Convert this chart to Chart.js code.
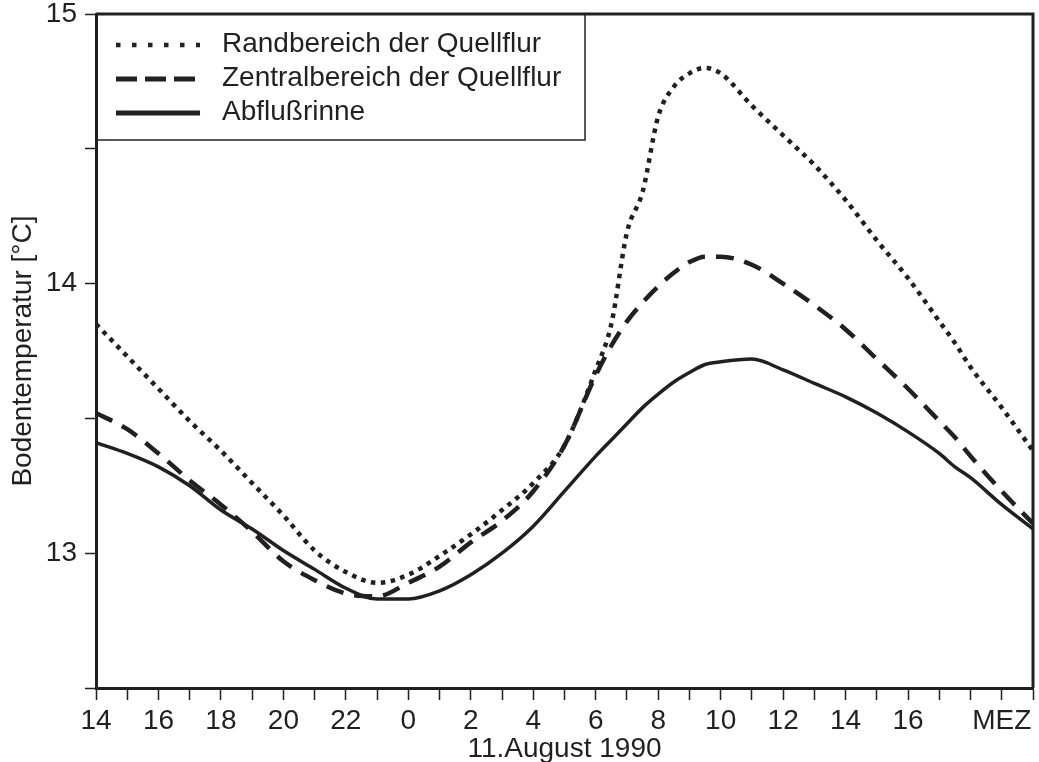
<!DOCTYPE html>
<html>
<head>
<meta charset="utf-8">
<script src="https://cdn.jsdelivr.net/npm/chart.js@4"></script>
<style>
  html, body { margin: 0; padding: 0; background: #fff; }
</style>
</head>
<body>
<canvas id="grafik" width="1039" height="762"></canvas>
<script>
// Stunden seit 14 Uhr MEZ am 10.08.1990
const stunden = [0, 1, 2, 3, 4, 5, 6, 7, 8, 9, 10, 11, 12, 13, 14, 15, 16,
  16.5, 17, 17.5, 18, 18.5, 19, 19.5, 20, 21, 22, 23, 24, 25, 26, 27, 27.5, 28, 29, 30];

// Bodentemperatur [°C]
const randbereich = [13.85, 13.73, 13.61, 13.49, 13.38, 13.26, 13.14, 13.01, 12.93, 12.89, 12.92, 12.99, 13.07, 13.16, 13.26, 13.40, 13.68,
  13.85, 14.19, 14.34, 14.62, 14.73, 14.78, 14.80, 14.78, 14.66, 14.55, 14.44, 14.31, 14.16, 14.02, 13.86, 13.78, 13.69, 13.54, 13.38];
const zentralbereich = [13.52, 13.46, 13.37, 13.27, 13.18, 13.08, 12.97, 12.90, 12.85, 12.84, 12.89, 12.95, 13.04, 13.12, 13.23, 13.40, 13.66,
  13.77, 13.86, 13.93, 13.99, 14.04, 14.08, 14.10, 14.10, 14.07, 14.00, 13.92, 13.83, 13.72, 13.61, 13.49, 13.43, 13.36, 13.23, 13.11];
const abflussrinne = [13.41, 13.37, 13.32, 13.25, 13.16, 13.09, 13.01, 12.94, 12.87, 12.83, 12.83, 12.86, 12.92, 13.00, 13.10, 13.23, 13.36,
  13.42, 13.48, 13.54, 13.59, 13.635, 13.67, 13.70, 13.71, 13.72, 13.68, 13.63, 13.58, 13.52, 13.45, 13.37, 13.32, 13.28, 13.18, 13.09];

const serienNamen = ['Randbereich der Quellflur', 'Zentralbereich der Quellflur', 'Abflußrinne'];

// Beschriftung je Stunde (0..30)
const xTickLabels = ['14', '', '16', '', '18', '', '20', '', '22', '', '0', '', '2', '', '4', '',
  '6', '', '8', '', '10', '', '12', '', '14', '', '16', '', '', 'MEZ', ''];
const yTickLabels = ['', '13', '', '14', '', '15'];

const schwarz = '#231f20';
const schrift = { family: '"Liberation Sans", Arial, Helvetica, sans-serif', size: 28 };

const alsPunkte = (werte) => werte.map((t, i) => ({ x: stunden[i], y: t }));

// Rahmen oben/rechts und Legendenkasten
const rahmenUndLegende = {
  id: 'rahmenUndLegende',
  afterDraw(chart) {
    const { ctx, chartArea: a } = chart;
    ctx.save();

    // Legende
    ctx.strokeStyle = schwarz;
    ctx.lineWidth = 1.5;
    ctx.strokeRect(a.left, a.top, 489, 126);
    ctx.font = schrift.size + 'px ' + schrift.family;
    ctx.fillStyle = schwarz;
    ctx.textBaseline = 'alphabetic';
    chart.data.datasets.forEach((ds, i) => {
      const basis = a.top + 38 + i * 34;
      ctx.beginPath();
      ctx.setLineDash(ds.legendDash);
      ctx.lineWidth = ds.legendWidth;
      ctx.moveTo(a.left + 20, basis - 7);
      ctx.lineTo(a.left + 104, basis - 7);
      ctx.stroke();
      ctx.setLineDash([]);
      ctx.fillText(ds.label, a.left + 126, basis);
    });

    // Rahmen
    ctx.lineWidth = 3;
    ctx.beginPath();
    ctx.moveTo(a.left, a.top);
    ctx.lineTo(a.right, a.top);
    ctx.lineTo(a.right, a.bottom);
    ctx.stroke();
    ctx.restore();
  }
};

new Chart(document.getElementById('grafik'), {
  type: 'line',
  data: {
    datasets: [
      {
        label: serienNamen[0],
        data: alsPunkte(randbereich),
        borderColor: schwarz,
        borderWidth: 4.5,
        borderDash: [4.5, 5.5],
        legendDash: [4.5, 11.5],
        legendWidth: 4.5
      },
      {
        label: serienNamen[1],
        data: alsPunkte(zentralbereich),
        borderColor: schwarz,
        borderWidth: 4.5,
        borderDash: [18, 11],
        legendDash: [21, 8],
        legendWidth: 5
      },
      {
        label: serienNamen[2],
        data: alsPunkte(abflussrinne),
        borderColor: schwarz,
        borderWidth: 3.5,
        borderDash: [],
        legendDash: [],
        legendWidth: 5
      }
    ]
  },
  options: {
    responsive: false,
    animation: false,
    devicePixelRatio: 1,
    layout: { padding: { top: 14, right: 6, left: 0, bottom: 0 } },
    elements: {
      point: { radius: 0 },
      line: { cubicInterpolationMode: 'monotone', fill: false }
    },
    plugins: {
      legend: { display: false },
      tooltip: { enabled: false }
    },
    scales: {
      x: {
        type: 'linear',
        min: 0,
        max: 30,
        afterFit: (s) => { s.height = 74; s.paddingLeft = 0; s.paddingRight = 0; },
        ticks: {
          stepSize: 1,
          autoSkip: false,
          maxRotation: 0,
          padding: 4,
          color: schwarz,
          font: schrift,
          callback: (v) => xTickLabels[v] ?? ''
        },
        grid: { drawOnChartArea: false, tickLength: 12, tickWidth: 1.5, tickColor: schwarz },
        border: { display: true, width: 3, color: schwarz },
        title: {
          display: true,
          text: '11.August 1990',
          color: schwarz,
          font: { ...schrift, lineHeight: 1 },
          padding: { top: 0, bottom: -1 }
        }
      },
      y: {
        min: 12.5,
        max: 15,
        afterFit: (s) => { s.width = 96; s.paddingTop = 0; s.paddingBottom = 0; },
        ticks: {
          stepSize: 0.5,
          padding: 8,
          color: schwarz,
          font: schrift,
          callback: (v, i) => yTickLabels[i]
        },
        grid: { drawOnChartArea: false, tickLength: 11, tickWidth: 1.5, tickColor: schwarz },
        border: { display: true, width: 3, color: schwarz },
        title: {
          display: true,
          text: 'Bodentemperatur [°C]',
          color: schwarz,
          font: { ...schrift, lineHeight: 1 },
          padding: { top: 9, bottom: 0 }
        }
      }
    }
  },
  plugins: [rahmenUndLegende]
});
</script>
</body>
</html>
